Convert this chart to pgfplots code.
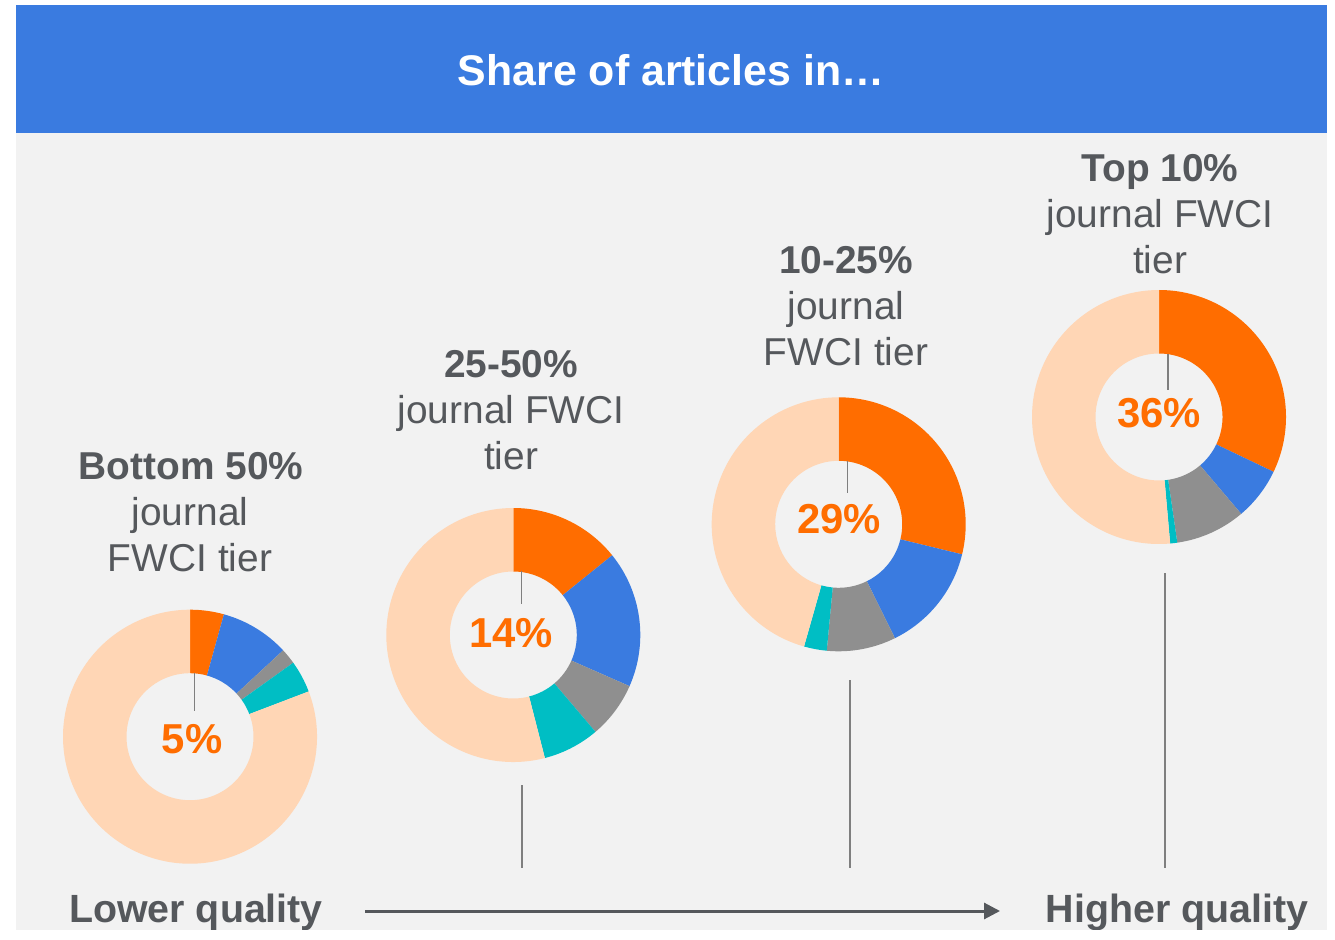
\documentclass[border=0pt]{standalone}
\usepackage{pgfplots}
\usepackage{pgfplotstable}
\pgfplotsset{compat=1.18}
\usetikzlibrary{arrows.meta}
\usepackage{fontspec}
\setmainfont{Liberation Sans}
\definecolor{hdr}{HTML}{3A7BE0}
\definecolor{bg}{HTML}{F2F2F2}
\definecolor{cOrange}{HTML}{FF6D00}
\definecolor{cBlue}{HTML}{3A7BE0}
\definecolor{cGray}{HTML}{8F8F8F}
\definecolor{cTeal}{HTML}{00BEC4}
\definecolor{cPeach}{HTML}{FFD6B5}
\definecolor{txt}{HTML}{55585C}
\definecolor{tick}{HTML}{7F7F7F}

% donut centres (pixel coords, y from top) and segment shares (%), clockwise from 12 o'clock
\pgfplotstableread{
cx     cy     orange blue gray teal
190.0  736.7  4.3    8.8  2.0  4.1
513.3  635.0  14.2   17.4 7.2  7.2
838.7  524.3  28.8   13.9 8.8  2.9
1159.0 417.0  32.1   6.7  8.9  0.9
}\donuts

\newcommand\seg[5]{% cx cy from% to% colour
  \fill[#5] (axis cs:#1,#2) ++({90-3.6*#3}:127bp)
    arc[start angle={90-3.6*#3}, end angle={90-3.6*#4}, radius=127bp]
    -- ++({270-3.6*#4}:63.5bp)
    arc[start angle={90-3.6*#4}, end angle={90-3.6*#3}, radius=63.5bp] -- cycle;}

\newcommand\tfont{\fontsize{39}{46}\selectfont}
\begin{document}
\begin{tikzpicture}
\begin{axis}[hide axis, scale only axis, width=1335bp, height=930bp,
  xmin=0, xmax=1335, ymin=0, ymax=930, y dir=reverse, clip=false]
\pgfplotsextra{
  \fill[white] (axis cs:0,0) rectangle (axis cs:1335,930);
  \fill[bg] (axis cs:16,133) rectangle (axis cs:1327,930);
  \fill[hdr] (axis cs:16,5) rectangle (axis cs:1327,133);
  \node[anchor=base, text=white, font=\fontsize{43}{50}\selectfont\bfseries] at (axis cs:671,85) {Share of articles in…};
  \foreach \i in {0,1,2,3}{
    \pgfplotstablegetelem{\i}{cx}\of\donuts \let\cx\pgfplotsretval
    \pgfplotstablegetelem{\i}{cy}\of\donuts \let\cy\pgfplotsretval
    \pgfplotstablegetelem{\i}{orange}\of\donuts \let\vo\pgfplotsretval
    \pgfplotstablegetelem{\i}{blue}\of\donuts \let\vb\pgfplotsretval
    \pgfplotstablegetelem{\i}{gray}\of\donuts \let\vg\pgfplotsretval
    \pgfplotstablegetelem{\i}{teal}\of\donuts \let\vt\pgfplotsretval
    \pgfmathsetmacro\ca{\vo}
    \pgfmathsetmacro\cb{\ca+\vb}
    \pgfmathsetmacro\cc{\cb+\vg}
    \pgfmathsetmacro\cd{\cc+\vt}
    \seg{\cx}{\cy}{0}{\ca}{cOrange}
    \seg{\cx}{\cy}{\ca}{\cb}{cBlue}
    \seg{\cx}{\cy}{\cb}{\cc}{cGray}
    \seg{\cx}{\cy}{\cc}{\cd}{cTeal}
    \seg{\cx}{\cy}{\cd}{100}{cPeach}
  }
  % ticks inside donuts
  \draw[tick, line width=1.4bp] (axis cs:194.7,673) -- (axis cs:194.7,711);
  \draw[tick, line width=1.4bp] (axis cs:521.7,571) -- (axis cs:521.7,604);
  \draw[tick, line width=1.4bp] (axis cs:847.7,461) -- (axis cs:847.7,493);
  \draw[tick, line width=1.4bp] (axis cs:1168,354) -- (axis cs:1168,390);
  % lines below donuts
  \draw[tick, line width=1.4bp] (axis cs:522,785) -- (axis cs:522,868);
  \draw[tick, line width=1.4bp] (axis cs:850,680) -- (axis cs:850,868);
  \draw[tick, line width=1.4bp] (axis cs:1165,573) -- (axis cs:1165,868);
  % percentages
  \begin{scope}[every node/.style={anchor=base, text=cOrange, font=\fontsize{42}{48}\selectfont\bfseries}]
  \node at (axis cs:192,753) {5\%};
  \node at (axis cs:511,647) {14\%};
  \node at (axis cs:839,533) {29\%};
  \node at (axis cs:1159,427) {36\%};
  \end{scope}
  % titles
  \begin{scope}[every node/.style={anchor=base, text=txt, font=\tfont}]
  \node[font=\tfont\bfseries] at (axis cs:191,479) {Bottom 50\%};
  \node at (axis cs:190,525) {journal};
  \node at (axis cs:190,571) {FWCI tier};
  \node[font=\tfont\bfseries] at (axis cs:511,377) {25-50\%};
  \node at (axis cs:511,423) {journal FWCI};
  \node at (axis cs:511,469) {tier};
  \node[font=\tfont\bfseries] at (axis cs:846,273) {10-25\%};
  \node at (axis cs:846,319) {journal};
  \node at (axis cs:846,365) {FWCI tier};
  \node[font=\tfont\bfseries] at (axis cs:1160,181) {Top 10\%};
  \node at (axis cs:1160,227) {journal FWCI};
  \node at (axis cs:1160,273) {tier};
  \end{scope}
  % bottom axis
  \node[anchor=base, text=txt, font=\fontsize{39.5}{46}\selectfont\bfseries] at (axis cs:196,922) {Lower quality};
  \node[anchor=base, text=txt, font=\fontsize{39.5}{46}\selectfont\bfseries] at (axis cs:1177,922) {Higher quality};
  \draw[txt, line width=3bp, -{Triangle[length=16bp,width=16bp]}] (axis cs:365,911) -- (axis cs:1000,911);
  \fill[white] (axis cs:0,930) rectangle (axis cs:1335,940);
}
\end{axis}
\end{tikzpicture}
\end{document}
